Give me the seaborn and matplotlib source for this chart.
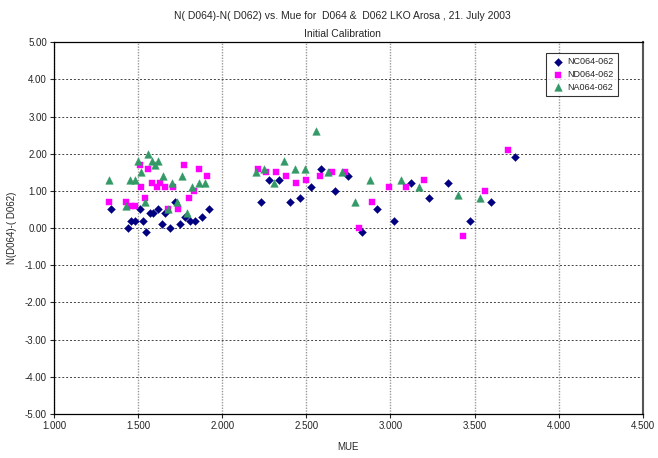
import pandas as pd
import matplotlib
matplotlib.use("Agg")
import matplotlib.pyplot as plt
import seaborn as sns

# MUE values and N differences
nc_mue = [1.34, 1.44, 1.46, 1.48, 1.51, 1.53, 1.55, 1.57, 1.59, 1.62, 1.64, 1.66, 1.69,
          1.72, 1.75, 1.78, 1.81, 1.84, 1.88, 1.92, 2.23, 2.28, 2.34, 2.40, 2.46, 2.53,
          2.59, 2.67, 2.75, 2.83, 2.92, 3.02, 3.12, 3.23, 3.34, 3.47, 3.60, 3.74]
nc_val = [0.5, 0.0, 0.2, 0.2, 0.5, 0.2, -0.1, 0.4, 0.4, 0.5, 0.1, 0.4, 0.0,
          0.7, 0.1, 0.3, 0.2, 0.2, 0.3, 0.5, 0.7, 1.3, 1.3, 0.7, 0.8, 1.1,
          1.6, 1.0, 1.4, -0.1, 0.5, 0.2, 1.2, 0.8, 1.2, 0.2, 0.7, 1.9]

nd_mue = [1.33, 1.43, 1.46, 1.48, 1.51, 1.52, 1.54, 1.56, 1.58, 1.61, 1.63, 1.66, 1.68,
          1.71, 1.74, 1.77, 1.80, 1.83, 1.86, 1.91, 2.21, 2.26, 2.32, 2.38, 2.44, 2.50,
          2.58, 2.65, 2.73, 2.81, 2.89, 2.99, 3.09, 3.20, 3.43, 3.56, 3.70]
nd_val = [0.7, 0.7, 0.6, 0.6, 1.7, 1.1, 0.8, 1.6, 1.2, 1.1, 1.2, 1.1, 0.5,
          1.1, 0.5, 1.7, 0.8, 1.0, 1.6, 1.4, 1.6, 1.5, 1.5, 1.4, 1.2, 1.3,
          1.4, 1.5, 1.5, 0.0, 0.7, 1.1, 1.1, 1.3, -0.2, 1.0, 2.1]

na_mue = [1.33, 1.43, 1.45, 1.48, 1.50, 1.52, 1.54, 1.56, 1.58, 1.60, 1.62, 1.65, 1.68,
          1.70, 1.73, 1.76, 1.79, 1.82, 1.86, 1.90, 2.20, 2.25, 2.31, 2.37, 2.43, 2.49,
          2.56, 2.63, 2.71, 2.79, 2.88, 3.06, 3.17, 3.40, 3.53]
na_val = [1.3, 0.6, 1.3, 1.3, 1.8, 1.5, 0.7, 2.0, 1.8, 1.7, 1.8, 1.4, 0.5,
          1.2, 0.7, 1.4, 0.4, 1.1, 1.2, 1.2, 1.5, 1.6, 1.2, 1.8, 1.6, 1.6,
          2.6, 1.5, 1.5, 0.7, 1.3, 1.3, 1.1, 0.9, 0.8]

series_names = ["NC064-062", "ND064-062", "NA064-062"]

df = pd.concat([
    pd.DataFrame({"MUE": nc_mue, "val": nc_val, "series": series_names[0]}),
    pd.DataFrame({"MUE": nd_mue, "val": nd_val, "series": series_names[1]}),
    pd.DataFrame({"MUE": na_mue, "val": na_val, "series": series_names[2]}),
])

sns.set_style("white")
plt.rcParams['font.family'] = ['Liberation Sans', 'DejaVu Sans']

fig = plt.figure(figsize=(6.58, 4.58), dpi=100)
ax = fig.add_axes([0.082, 0.096, 0.895, 0.812])

colors = {"NC064-062": "#000080", "ND064-062": "#FF00FF", "NA064-062": "#339966"}
markers = {"NC064-062": "D", "ND064-062": "s", "NA064-062": "^"}
sizes = {"NC064-062": 16, "ND064-062": 22, "NA064-062": 30}

for name in series_names:
    sub = df[df["series"] == name]
    sns.scatterplot(data=sub, x="MUE", y="val", color=colors[name], marker=markers[name],
                    s=sizes[name], edgecolor=colors[name], linewidth=0.3, label=name,
                    ax=ax, zorder=3)

ax.set_xlim(1.0, 4.5)
ax.set_ylim(-5, 5)
ax.set_xticks([1.0 + 0.5 * i for i in range(8)])
ax.set_yticks(range(-5, 6))
ax.set_xticklabels([f"{1.0 + 0.5 * i:.3f}" for i in range(8)], fontsize=7)
ax.set_yticklabels([f"{v:.2f}" for v in range(-5, 6)], fontsize=7)
ax.tick_params(axis="both", length=3, width=0.8, direction="out", pad=2,
               bottom=True, left=True)

ax.yaxis.grid(True, linestyle=(0, (2, 2)), color="#444444", linewidth=0.7)
ax.xaxis.grid(True, linestyle=(0, (1, 1)), color="#999999", linewidth=1.0)
ax.set_axisbelow(True)

for side in ["left", "bottom", "top"]:
    ax.spines[side].set_color("black")
    ax.spines[side].set_linewidth(0.9)
ax.spines["right"].set_color("#555555")
ax.spines["right"].set_linewidth(1.5)

ax.set_xlabel("MUE", fontsize=7, labelpad=8)
ax.set_ylabel("N(D064)-( D062)", fontsize=7, labelpad=6)

fig.text(0.52, 0.965, "N( D064)-N( D062) vs. Mue for  D064 &  D062 LKO Arosa , 21. July 2003",
         ha="center", va="center", fontsize=7.5)
fig.text(0.52, 0.925, "Initial Calibration", ha="center", va="center", fontsize=7.5)

leg = ax.legend(loc="upper right", bbox_to_anchor=(0.965, 0.983), fontsize=6.5,
                frameon=True, fancybox=False, handletextpad=0.2, borderpad=0.5,
                labelspacing=0.4, handlelength=1.6, markerscale=1.0)
leg.get_frame().set_edgecolor("black")
leg.get_frame().set_linewidth(0.8)

fig.savefig("out.png", dpi=100)
